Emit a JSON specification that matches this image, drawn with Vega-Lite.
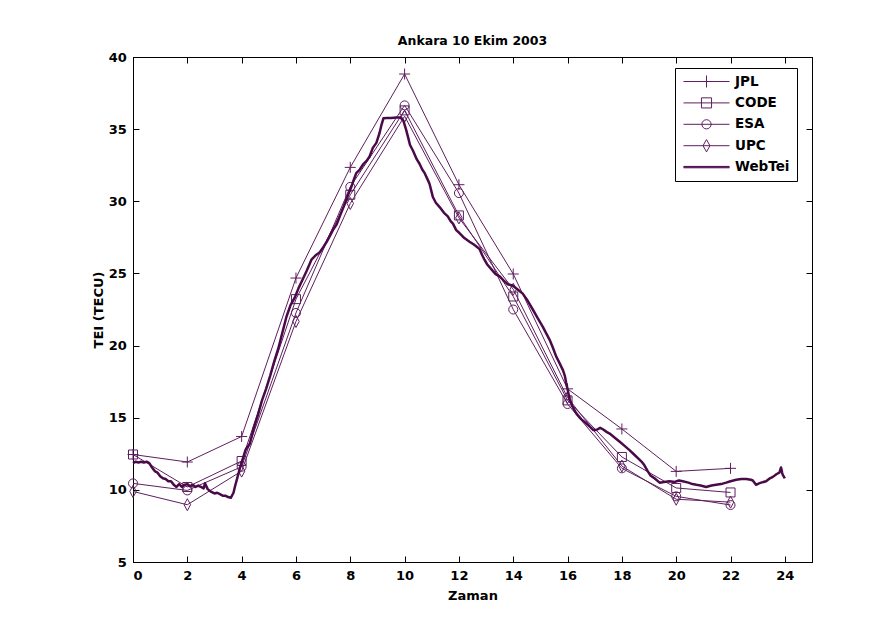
{
  "$schema": "https://vega.github.io/schema/vega-lite/v6.json",
  "width": 679,
  "height": 505,
  "autosize": {"type": "none"},
  "padding": {"left": 133, "top": 57, "right": 79, "bottom": 77},
  "background": "white",
  "title": {"text": "Ankara 10 Ekim 2003", "font": "DejaVu Sans", "fontSize": 12.5, "fontWeight": "bold", "color": "black", "offset": 4, "anchor": "middle"},
  "config": {
    "view": {"stroke": "black", "strokeWidth": 1},
    "axis": {"labelFont": "DejaVu Sans", "labelFontSize": 13, "labelFontWeight": "bold", "labelColor": "black", "titleFont": "DejaVu Sans", "titleFontSize": 13, "titleFontWeight": "bold", "titleColor": "black", "domainColor": "black", "tickColor": "black", "tickSize": -6, "grid": false},
    "legend": {"symbolSize": 2116, "symbolStrokeWidth": 1}
  },
  "datasets": {
    "models": [
      {"s": "JPL", "x": 0, "y": 12.45}, {"s": "JPL", "x": 2, "y": 11.93}, {"s": "JPL", "x": 4, "y": 13.7}, {"s": "JPL", "x": 6, "y": 24.68}, {"s": "JPL", "x": 8, "y": 32.35}, {"s": "JPL", "x": 10, "y": 38.82}, {"s": "JPL", "x": 12, "y": 31.15}, {"s": "JPL", "x": 14, "y": 24.96}, {"s": "JPL", "x": 16, "y": 17.0}, {"s": "JPL", "x": 18, "y": 14.22}, {"s": "JPL", "x": 20, "y": 11.28}, {"s": "JPL", "x": 22, "y": 11.49},
      {"s": "CODE", "x": 0, "y": 12.45}, {"s": "CODE", "x": 2, "y": 10.2}, {"s": "CODE", "x": 4, "y": 12.0}, {"s": "CODE", "x": 6, "y": 23.22}, {"s": "CODE", "x": 8, "y": 30.45}, {"s": "CODE", "x": 10, "y": 36.3}, {"s": "CODE", "x": 12, "y": 29.02}, {"s": "CODE", "x": 14, "y": 23.4}, {"s": "CODE", "x": 16, "y": 16.2}, {"s": "CODE", "x": 18, "y": 12.28}, {"s": "CODE", "x": 20, "y": 10.13}, {"s": "CODE", "x": 22, "y": 9.82},
      {"s": "ESA", "x": 0, "y": 10.45}, {"s": "ESA", "x": 2, "y": 9.96}, {"s": "ESA", "x": 4, "y": 11.6}, {"s": "ESA", "x": 6, "y": 22.26}, {"s": "ESA", "x": 8, "y": 31.0}, {"s": "ESA", "x": 10, "y": 36.65}, {"s": "ESA", "x": 12, "y": 30.57}, {"s": "ESA", "x": 14, "y": 22.5}, {"s": "ESA", "x": 16, "y": 15.95}, {"s": "ESA", "x": 18, "y": 11.49}, {"s": "ESA", "x": 20, "y": 9.55}, {"s": "ESA", "x": 22, "y": 8.95},
      {"s": "UPC", "x": 0, "y": 9.89}, {"s": "UPC", "x": 2, "y": 8.97}, {"s": "UPC", "x": 4, "y": 11.3}, {"s": "UPC", "x": 6, "y": 21.67}, {"s": "UPC", "x": 8, "y": 29.85}, {"s": "UPC", "x": 10, "y": 35.9}, {"s": "UPC", "x": 12, "y": 28.85}, {"s": "UPC", "x": 14, "y": 23.9}, {"s": "UPC", "x": 16, "y": 16.4}, {"s": "UPC", "x": 18, "y": 11.65}, {"s": "UPC", "x": 20, "y": 9.35}, {"s": "UPC", "x": 22, "y": 9.15}
    ],
    "webtei": [
      {"s": "WebTei", "x": 0.0, "y": 11.85}, {"s": "WebTei", "x": 0.1, "y": 11.95}, {"s": "WebTei", "x": 0.2, "y": 11.9}, {"s": "WebTei", "x": 0.3, "y": 11.95}, {"s": "WebTei", "x": 0.4, "y": 11.9}, {"s": "WebTei", "x": 0.5, "y": 11.95}, {"s": "WebTei", "x": 0.6, "y": 11.85}, {"s": "WebTei", "x": 0.7, "y": 11.55}, {"s": "WebTei", "x": 0.8, "y": 11.3}, {"s": "WebTei", "x": 0.9, "y": 11.2}, {"s": "WebTei", "x": 1.0, "y": 10.95}, {"s": "WebTei", "x": 1.1, "y": 10.8}, {"s": "WebTei", "x": 1.2, "y": 10.75}, {"s": "WebTei", "x": 1.3, "y": 10.6}, {"s": "WebTei", "x": 1.4, "y": 10.6}, {"s": "WebTei", "x": 1.5, "y": 10.35}, {"s": "WebTei", "x": 1.6, "y": 10.2}, {"s": "WebTei", "x": 1.7, "y": 10.4}, {"s": "WebTei", "x": 1.8, "y": 10.2}, {"s": "WebTei", "x": 1.9, "y": 10.35}, {"s": "WebTei", "x": 2.0, "y": 10.4}, {"s": "WebTei", "x": 2.1, "y": 10.25}, {"s": "WebTei", "x": 2.2, "y": 10.35}, {"s": "WebTei", "x": 2.3, "y": 10.2}, {"s": "WebTei", "x": 2.4, "y": 10.3}, {"s": "WebTei", "x": 2.5, "y": 10.2}, {"s": "WebTei", "x": 2.6, "y": 10.1}, {"s": "WebTei", "x": 2.65, "y": 10.45}, {"s": "WebTei", "x": 2.75, "y": 10.05}, {"s": "WebTei", "x": 2.85, "y": 9.9}, {"s": "WebTei", "x": 3.0, "y": 9.75}, {"s": "WebTei", "x": 3.1, "y": 9.8}, {"s": "WebTei", "x": 3.2, "y": 9.7}, {"s": "WebTei", "x": 3.3, "y": 9.6}, {"s": "WebTei", "x": 3.4, "y": 9.6}, {"s": "WebTei", "x": 3.5, "y": 9.5}, {"s": "WebTei", "x": 3.6, "y": 9.45}, {"s": "WebTei", "x": 3.7, "y": 9.8}, {"s": "WebTei", "x": 3.75, "y": 10.2}, {"s": "WebTei", "x": 3.85, "y": 10.9}, {"s": "WebTei", "x": 3.95, "y": 11.6}, {"s": "WebTei", "x": 4.05, "y": 12.2}, {"s": "WebTei", "x": 4.15, "y": 12.8}, {"s": "WebTei", "x": 4.3, "y": 13.2}, {"s": "WebTei", "x": 4.45, "y": 14.3}, {"s": "WebTei", "x": 4.6, "y": 15.2}, {"s": "WebTei", "x": 4.75, "y": 16.2}, {"s": "WebTei", "x": 4.9, "y": 17.0}, {"s": "WebTei", "x": 5.05, "y": 17.9}, {"s": "WebTei", "x": 5.2, "y": 18.9}, {"s": "WebTei", "x": 5.35, "y": 19.8}, {"s": "WebTei", "x": 5.5, "y": 20.9}, {"s": "WebTei", "x": 5.65, "y": 22.0}, {"s": "WebTei", "x": 5.8, "y": 22.8}, {"s": "WebTei", "x": 5.95, "y": 23.3}, {"s": "WebTei", "x": 6.1, "y": 24.0}, {"s": "WebTei", "x": 6.25, "y": 24.6}, {"s": "WebTei", "x": 6.4, "y": 25.2}, {"s": "WebTei", "x": 6.57, "y": 25.95}, {"s": "WebTei", "x": 6.75, "y": 26.3}, {"s": "WebTei", "x": 6.87, "y": 26.45}, {"s": "WebTei", "x": 7.0, "y": 26.8}, {"s": "WebTei", "x": 7.12, "y": 27.15}, {"s": "WebTei", "x": 7.25, "y": 27.6}, {"s": "WebTei", "x": 7.36, "y": 28.0}, {"s": "WebTei", "x": 7.5, "y": 28.4}, {"s": "WebTei", "x": 7.61, "y": 28.95}, {"s": "WebTei", "x": 7.75, "y": 29.6}, {"s": "WebTei", "x": 7.85, "y": 30.1}, {"s": "WebTei", "x": 7.95, "y": 30.6}, {"s": "WebTei", "x": 8.04, "y": 31.0}, {"s": "WebTei", "x": 8.13, "y": 31.5}, {"s": "WebTei", "x": 8.22, "y": 31.95}, {"s": "WebTei", "x": 8.35, "y": 32.2}, {"s": "WebTei", "x": 8.47, "y": 32.55}, {"s": "WebTei", "x": 8.6, "y": 32.8}, {"s": "WebTei", "x": 8.71, "y": 33.1}, {"s": "WebTei", "x": 8.83, "y": 33.7}, {"s": "WebTei", "x": 8.96, "y": 34.05}, {"s": "WebTei", "x": 9.02, "y": 34.4}, {"s": "WebTei", "x": 9.08, "y": 34.75}, {"s": "WebTei", "x": 9.15, "y": 35.3}, {"s": "WebTei", "x": 9.22, "y": 35.75}, {"s": "WebTei", "x": 9.35, "y": 35.78}, {"s": "WebTei", "x": 9.5, "y": 35.78}, {"s": "WebTei", "x": 9.7, "y": 35.8}, {"s": "WebTei", "x": 9.85, "y": 35.8}, {"s": "WebTei", "x": 9.95, "y": 35.6}, {"s": "WebTei", "x": 10.05, "y": 35.0}, {"s": "WebTei", "x": 10.12, "y": 34.5}, {"s": "WebTei", "x": 10.2, "y": 33.9}, {"s": "WebTei", "x": 10.31, "y": 33.5}, {"s": "WebTei", "x": 10.45, "y": 32.9}, {"s": "WebTei", "x": 10.55, "y": 32.6}, {"s": "WebTei", "x": 10.65, "y": 32.2}, {"s": "WebTei", "x": 10.74, "y": 31.95}, {"s": "WebTei", "x": 10.85, "y": 31.5}, {"s": "WebTei", "x": 10.92, "y": 31.2}, {"s": "WebTei", "x": 11.0, "y": 30.6}, {"s": "WebTei", "x": 11.04, "y": 30.3}, {"s": "WebTei", "x": 11.15, "y": 29.9}, {"s": "WebTei", "x": 11.29, "y": 29.6}, {"s": "WebTei", "x": 11.45, "y": 29.2}, {"s": "WebTei", "x": 11.59, "y": 28.95}, {"s": "WebTei", "x": 11.7, "y": 28.6}, {"s": "WebTei", "x": 11.78, "y": 28.45}, {"s": "WebTei", "x": 11.9, "y": 28.0}, {"s": "WebTei", "x": 12.02, "y": 27.8}, {"s": "WebTei", "x": 12.2, "y": 27.45}, {"s": "WebTei", "x": 12.39, "y": 27.2}, {"s": "WebTei", "x": 12.55, "y": 27.0}, {"s": "WebTei", "x": 12.76, "y": 26.7}, {"s": "WebTei", "x": 12.85, "y": 26.3}, {"s": "WebTei", "x": 12.94, "y": 25.95}, {"s": "WebTei", "x": 13.05, "y": 25.6}, {"s": "WebTei", "x": 13.19, "y": 25.3}, {"s": "WebTei", "x": 13.35, "y": 24.95}, {"s": "WebTei", "x": 13.5, "y": 24.8}, {"s": "WebTei", "x": 13.65, "y": 24.5}, {"s": "WebTei", "x": 13.8, "y": 24.25}, {"s": "WebTei", "x": 13.99, "y": 24.15}, {"s": "WebTei", "x": 14.15, "y": 23.9}, {"s": "WebTei", "x": 14.35, "y": 23.6}, {"s": "WebTei", "x": 14.5, "y": 23.2}, {"s": "WebTei", "x": 14.72, "y": 22.5}, {"s": "WebTei", "x": 14.9, "y": 21.9}, {"s": "WebTei", "x": 15.09, "y": 21.3}, {"s": "WebTei", "x": 15.2, "y": 20.9}, {"s": "WebTei", "x": 15.34, "y": 20.4}, {"s": "WebTei", "x": 15.45, "y": 19.9}, {"s": "WebTei", "x": 15.58, "y": 19.25}, {"s": "WebTei", "x": 15.7, "y": 18.8}, {"s": "WebTei", "x": 15.83, "y": 18.3}, {"s": "WebTei", "x": 15.9, "y": 17.9}, {"s": "WebTei", "x": 15.95, "y": 17.4}, {"s": "WebTei", "x": 16.02, "y": 16.8}, {"s": "WebTei", "x": 16.07, "y": 16.3}, {"s": "WebTei", "x": 16.2, "y": 15.7}, {"s": "WebTei", "x": 16.32, "y": 15.3}, {"s": "WebTei", "x": 16.5, "y": 14.9}, {"s": "WebTei", "x": 16.69, "y": 14.6}, {"s": "WebTei", "x": 16.81, "y": 14.4}, {"s": "WebTei", "x": 16.95, "y": 14.15}, {"s": "WebTei", "x": 17.06, "y": 14.15}, {"s": "WebTei", "x": 17.2, "y": 14.3}, {"s": "WebTei", "x": 17.3, "y": 14.2}, {"s": "WebTei", "x": 17.45, "y": 14.0}, {"s": "WebTei", "x": 17.55, "y": 13.9}, {"s": "WebTei", "x": 17.75, "y": 13.6}, {"s": "WebTei", "x": 17.91, "y": 13.35}, {"s": "WebTei", "x": 18.1, "y": 13.05}, {"s": "WebTei", "x": 18.28, "y": 12.75}, {"s": "WebTei", "x": 18.45, "y": 12.45}, {"s": "WebTei", "x": 18.59, "y": 12.2}, {"s": "WebTei", "x": 18.75, "y": 11.9}, {"s": "WebTei", "x": 18.83, "y": 11.7}, {"s": "WebTei", "x": 18.95, "y": 11.3}, {"s": "WebTei", "x": 19.05, "y": 11.0}, {"s": "WebTei", "x": 19.2, "y": 10.8}, {"s": "WebTei", "x": 19.39, "y": 10.5}, {"s": "WebTei", "x": 19.55, "y": 10.55}, {"s": "WebTei", "x": 19.75, "y": 10.6}, {"s": "WebTei", "x": 19.95, "y": 10.55}, {"s": "WebTei", "x": 20.1, "y": 10.65}, {"s": "WebTei", "x": 20.24, "y": 10.6}, {"s": "WebTei", "x": 20.45, "y": 10.5}, {"s": "WebTei", "x": 20.6, "y": 10.4}, {"s": "WebTei", "x": 20.74, "y": 10.35}, {"s": "WebTei", "x": 20.9, "y": 10.3}, {"s": "WebTei", "x": 21.1, "y": 10.2}, {"s": "WebTei", "x": 21.3, "y": 10.3}, {"s": "WebTei", "x": 21.47, "y": 10.35}, {"s": "WebTei", "x": 21.65, "y": 10.4}, {"s": "WebTei", "x": 21.84, "y": 10.5}, {"s": "WebTei", "x": 22.0, "y": 10.6}, {"s": "WebTei", "x": 22.21, "y": 10.7}, {"s": "WebTei", "x": 22.4, "y": 10.75}, {"s": "WebTei", "x": 22.58, "y": 10.75}, {"s": "WebTei", "x": 22.75, "y": 10.7}, {"s": "WebTei", "x": 22.82, "y": 10.65}, {"s": "WebTei", "x": 22.94, "y": 10.35}, {"s": "WebTei", "x": 23.05, "y": 10.45}, {"s": "WebTei", "x": 23.13, "y": 10.5}, {"s": "WebTei", "x": 23.31, "y": 10.6}, {"s": "WebTei", "x": 23.45, "y": 10.8}, {"s": "WebTei", "x": 23.56, "y": 10.9}, {"s": "WebTei", "x": 23.7, "y": 11.1}, {"s": "WebTei", "x": 23.8, "y": 11.2}, {"s": "WebTei", "x": 23.86, "y": 11.55}, {"s": "WebTei", "x": 23.9, "y": 11.2}, {"s": "WebTei", "x": 23.92, "y": 11.05}, {"s": "WebTei", "x": 24.0, "y": 10.8}
    ]
  },
  "resolve": {"axis": {"x": "independent", "y": "independent"}},
  "layer": [
    {
      "data": {"name": "models"},
      "mark": {"type": "line", "strokeWidth": 1},
      "encoding": {
        "x": {"field": "x", "type": "quantitative", "scale": {"domain": [0, 25], "nice": false, "zero": false},
              "axis": {"orient": "bottom", "values": [0, 2, 4, 6, 8, 10, 12, 14, 16, 18, 20, 22, 24], "format": "d", "labelPadding": 13.5, "title": "Zaman", "titlePadding": 7}},
        "y": {"field": "y", "type": "quantitative", "scale": {"domain": [5, 40], "nice": false, "zero": false},
              "axis": {"orient": "left", "values": [5, 10, 15, 20, 25, 30, 35, 40], "format": "d", "labelPadding": 12.6, "title": "TEI (TECU)", "titlePadding": 2.5}},
        "color": {"field": "s", "type": "nominal",
                  "scale": {"domain": ["JPL", "CODE", "ESA", "UPC", "WebTei"], "range": ["#5e1f5e", "#5e1f5e", "#5e1f5e", "#5e1f5e", "#4a0a4a"]},
                  "sort": ["JPL", "CODE", "ESA", "UPC", "WebTei"],
                  "legend": {"title": null, "orient": "none", "legendX": 542, "legendY": 11, "padding": 7, "strokeColor": "black", "fillColor": "white",
                             "symbolSize": 2116, "symbolStrokeWidth": 1, "symbolOffset": 1, "clipHeight": 13, "rowPadding": 7.4, "labelFont": "DejaVu Sans", "labelFontSize": 13.5, "labelFontWeight": "bold", "labelColor": "black", "labelOffset": 5, "symbolType": "stroke",
                             "encode": {"symbols": {"update": {
                               "shape": {"signal": "datum.value === 'JPL' ? 'M-1,0L1,0M0,-0.26L0,0.26' : datum.value === 'CODE' ? 'M-1,0L1,0M-0.22,-0.22L0.22,-0.22L0.22,0.22L-0.22,0.22Z' : datum.value === 'ESA' ? 'M-1,0L1,0M0.2,0A0.2,0.2 0 1,1 -0.2,0A0.2,0.2 0 1,1 0.2,0Z' : datum.value === 'UPC' ? 'M-1,0L1,0M0,-0.27L0.15,0L0,0.27L-0.15,0Z' : 'M-1,0L1,0M-1,0.03L1,0.03M-1,-0.03L1,-0.03'"},
                               "size": {"value": 2116},
                               "fill": {"value": "transparent"},
                               "opacity": {"value": 1}
                             }}}}}
      }
    },
    {
      "data": {"name": "models"},
      "mark": {"type": "point", "filled": false, "strokeWidth": 1, "size": 100, "opacity": 1},
      "encoding": {
        "x": {"field": "x", "type": "quantitative", "axis": null},
        "y": {"field": "y", "type": "quantitative", "axis": null},
        "color": {"field": "s", "type": "nominal", "legend": null},
        "shape": {"field": "s", "type": "nominal", "legend": null,
                  "scale": {"domain": ["JPL", "CODE", "ESA", "UPC"], "range": ["M-1.1,0L1.1,0M0,-1.1L0,1.1", "M-0.9,-0.9L0.9,-0.9L0.9,0.9L-0.9,0.9Z", "M0.9,0A0.9,0.9 0 1,1 -0.9,0A0.9,0.9 0 1,1 0.9,0Z", "M0,-1.2L0.65,0L0,1.2L-0.65,0Z"]}}
      }
    },
    {
      "data": {"name": "webtei"},
      "mark": {"type": "line", "strokeWidth": 2.5, "strokeJoin": "round"},
      "encoding": {
        "x": {"field": "x", "type": "quantitative", "axis": {"orient": "top", "values": [0, 2, 4, 6, 8, 10, 12, 14, 16, 18, 20, 22, 24], "labels": false, "title": null}},
        "y": {"field": "y", "type": "quantitative", "axis": {"orient": "right", "values": [5, 10, 15, 20, 25, 30, 35, 40], "labels": false, "title": null}},
        "color": {"field": "s", "type": "nominal", "legend": null}
      }
    }
  ]
}
